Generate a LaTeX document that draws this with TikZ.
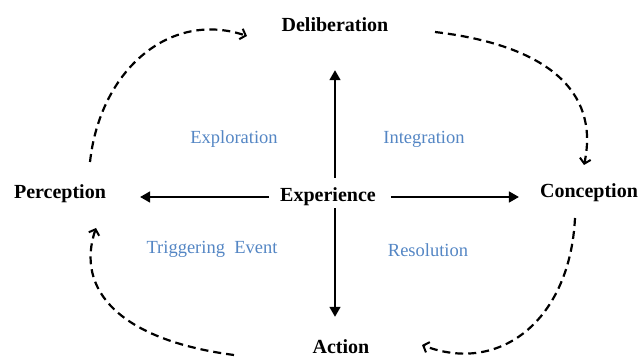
\documentclass[tikz,border=0pt]{standalone}
\usepackage{fontspec}
\setmainfont{Liberation Serif}
\usetikzlibrary{arrows.meta,calc}
\definecolor{labelblue}{RGB}{84,134,196}
\tikzset{
  stage/.style={font=\fontsize{20}{24}\selectfont\bfseries, inner sep=0pt, text height=14pt, text depth=4pt, anchor=center},
  phase/.style={font=\fontsize{18.5}{22}\selectfont, text=labelblue, inner sep=0pt, text height=13pt, text depth=4pt, anchor=center},
  solidarrow/.style={line width=1.6pt, -{Triangle[length=10pt,width=11pt]}},
  cyclearrow/.style={line width=2.2pt, dash pattern=on 8pt off 5pt, -{Straight Barb[length=5pt,width=11pt,line width=2pt]}}
}
\begin{document}
\begin{tikzpicture}[x=1pt,y=-1pt]
\useasboundingbox (0,0) rectangle (640,358);
% stage nodes
\node[stage] (delib) at (335,27) {Deliberation};
\node[stage] (exp) at (328,197) {Experience};
\node[stage] (perc) at (60,194) {Perception};
\node[stage] (conc) at (589,193) {Conception};
\node[stage] (act) at (341,348) {Action};
% phase labels
\node[phase] (explo) at (234,139) {Exploration};
\node[phase] (integ) at (424,139) {Integration};
\node[phase] (trig) at (212,249) {Triggering\ \ Event};
\node[phase] (resol) at (428,252) {Resolution};
% solid arrows from Experience
\draw[solidarrow, shorten <=10pt, shorten >=34pt] (delib |- exp.north) -- (delib.south);
\draw[solidarrow, shorten <=2pt, shorten >=22pt] (delib |- exp.south) -- (delib |- act.north);
\draw[solidarrow, shorten <=11pt, shorten >=34pt] (exp.west) -- (perc.east |- exp.west);
\draw[solidarrow, shorten <=15pt, shorten >=21pt] (exp.east) -- (conc.west |- exp.east);
% dashed cycle
\coordinate (p1) at (90,162);
\coordinate (d1) at (247,36);
\coordinate (d2) at (435,32);
\coordinate (c1) at (584,165);
\coordinate (c2) at (575,218);
\coordinate (a1) at (422,345);
\coordinate (a2) at (234,355);
\coordinate (p2) at (96,228);
\draw[cyclearrow] (p1) .. controls (100,70) and (170,10) .. (d1);
\draw[cyclearrow] (d2) .. controls (545,45) and (600,90) .. (c1);
\draw[cyclearrow] (c2) .. controls (570,320) and (500,375) .. (a1);
\draw[cyclearrow] (a2) .. controls (120,340) and (75,290) .. (p2);
\end{tikzpicture}
\end{document}
